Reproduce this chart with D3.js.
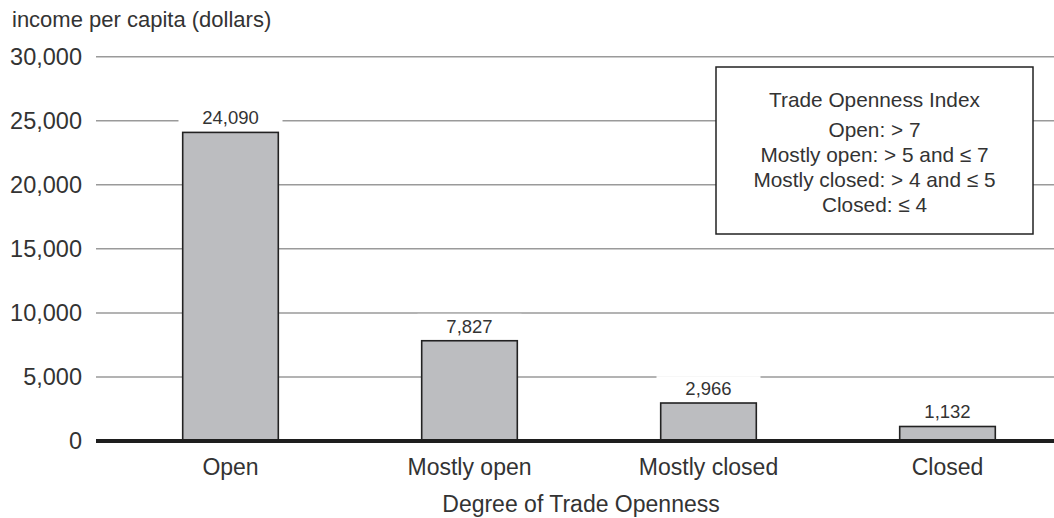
<!DOCTYPE html>
<html>
<head>
<meta charset="utf-8">
<script src="https://cdn.jsdelivr.net/npm/d3@7"></script>
<style>
  html, body { margin: 0; padding: 0; background: #fff; }
  svg { display: block; font-family: "Liberation Sans", Arial, Helvetica, sans-serif; }
</style>
</head>
<body>
<svg id="chart" width="1054" height="518"></svg>
<script>
// Income per capita by degree of trade openness
const categories = ["Open", "Mostly open", "Mostly closed", "Closed"];
const incomeValues = [24090, 7827, 2966, 1132];
const yTicks = [0, 5000, 10000, 15000, 20000, 25000, 30000];
const yTitle = "income per capita (dollars)";
const xTitle = "Degree of Trade Openness";
const legendTitle = "Trade Openness Index";
const legendLines = [
  "Open: > 7",
  "Mostly open: > 5 and \u2264 7",
  "Mostly closed: > 4 and \u2264 5",
  "Closed: \u2264 4"
];

const svg = d3.select("#chart");
const W = 1054;
const plotLeft = 96, plotRight = W;
const textColor = "#333";

const y = d3.scaleLinear().domain([0, 30000]).range([441, 56.7]);
const x = d3.scaleBand().domain(categories).range([111, 1067])
  .paddingInner(0.6).paddingOuter(0.3);

// horizontal gridlines
svg.append("g").selectAll("line")
  .data(yTicks.filter(d => d !== 0))
  .join("line")
  .attr("x1", plotLeft).attr("x2", plotRight)
  .attr("y1", d => y(d)).attr("y2", d => y(d))
  .attr("stroke", "#9a9a9a").attr("stroke-width", 1.5);

// y axis labels
const yAxis = svg.append("g")
  .attr("transform", `translate(${plotLeft},0)`)
  .call(d3.axisLeft(y).tickValues(yTicks).tickFormat(d3.format(",")).tickSize(0).tickPadding(14));
yAxis.select(".domain").remove();
yAxis.selectAll("text").attr("font-size", 23.5).attr("fill", textColor)
  .attr("font-family", "Liberation Sans, Arial, sans-serif");

// y axis title
svg.append("text").attr("x", 12).attr("y", 27)
  .attr("font-size", 22).attr("fill", textColor).text(yTitle);

const data = categories.map((c, i) => ({ cat: c, value: incomeValues[i] }));
const fmt = d3.format(",");

// white backing behind value labels, hiding gridlines
svg.append("g").selectAll("rect")
  .data(data).join("rect")
  .attr("x", d => x(d.cat) + x.bandwidth() / 2 - 52)
  .attr("width", 104)
  .attr("y", d => y(d.value) - 26.9)
  .attr("height", 25)
  .attr("fill", "#fff");

// bars
svg.append("g").selectAll("rect")
  .data(data).join("rect")
  .attr("x", d => x(d.cat))
  .attr("width", x.bandwidth())
  .attr("y", d => y(d.value))
  .attr("height", d => y(0) - y(d.value))
  .attr("fill", "#bcbdc0")
  .attr("stroke", "#222").attr("stroke-width", 1.6);

// value labels
svg.append("g").selectAll("text")
  .data(data).join("text")
  .attr("x", d => x(d.cat) + x.bandwidth() / 2)
  .attr("y", d => y(d.value) - 8)
  .attr("text-anchor", "middle")
  .attr("font-size", 18.5).attr("fill", textColor)
  .text(d => fmt(d.value));

// baseline
svg.append("line")
  .attr("x1", plotLeft).attr("x2", plotRight)
  .attr("y1", y(0)).attr("y2", y(0))
  .attr("stroke", "#1e1e1e").attr("stroke-width", 4);

// x axis labels
const xAxis = svg.append("g")
  .attr("transform", `translate(0,${y(0)})`)
  .call(d3.axisBottom(x).tickSize(0).tickPadding(18));
xAxis.select(".domain").remove();
xAxis.selectAll("text").attr("font-size", 23).attr("fill", textColor)
  .attr("font-family", "Liberation Sans, Arial, sans-serif");

// x axis title
svg.append("text").attr("x", 581).attr("y", 512)
  .attr("text-anchor", "middle").attr("font-size", 23).attr("fill", textColor)
  .text(xTitle);

// legend box
const lg = svg.append("g");
lg.append("rect").attr("x", 716).attr("y", 67).attr("width", 317).attr("height", 167)
  .attr("fill", "#fff").attr("stroke", "#222").attr("stroke-width", 1.5);
const lcx = 716 + 317 / 2;
lg.append("text").attr("x", lcx).attr("y", 107).attr("text-anchor", "middle")
  .attr("font-size", 20.8).attr("fill", textColor).text(legendTitle);
lg.selectAll("text.line").data(legendLines).join("text")
  .attr("class", "line")
  .attr("x", lcx).attr("y", (d, i) => 137 + i * 25)
  .attr("text-anchor", "middle")
  .attr("font-size", 20.8).attr("fill", textColor).text(d => d);
</script>
</body>
</html>
